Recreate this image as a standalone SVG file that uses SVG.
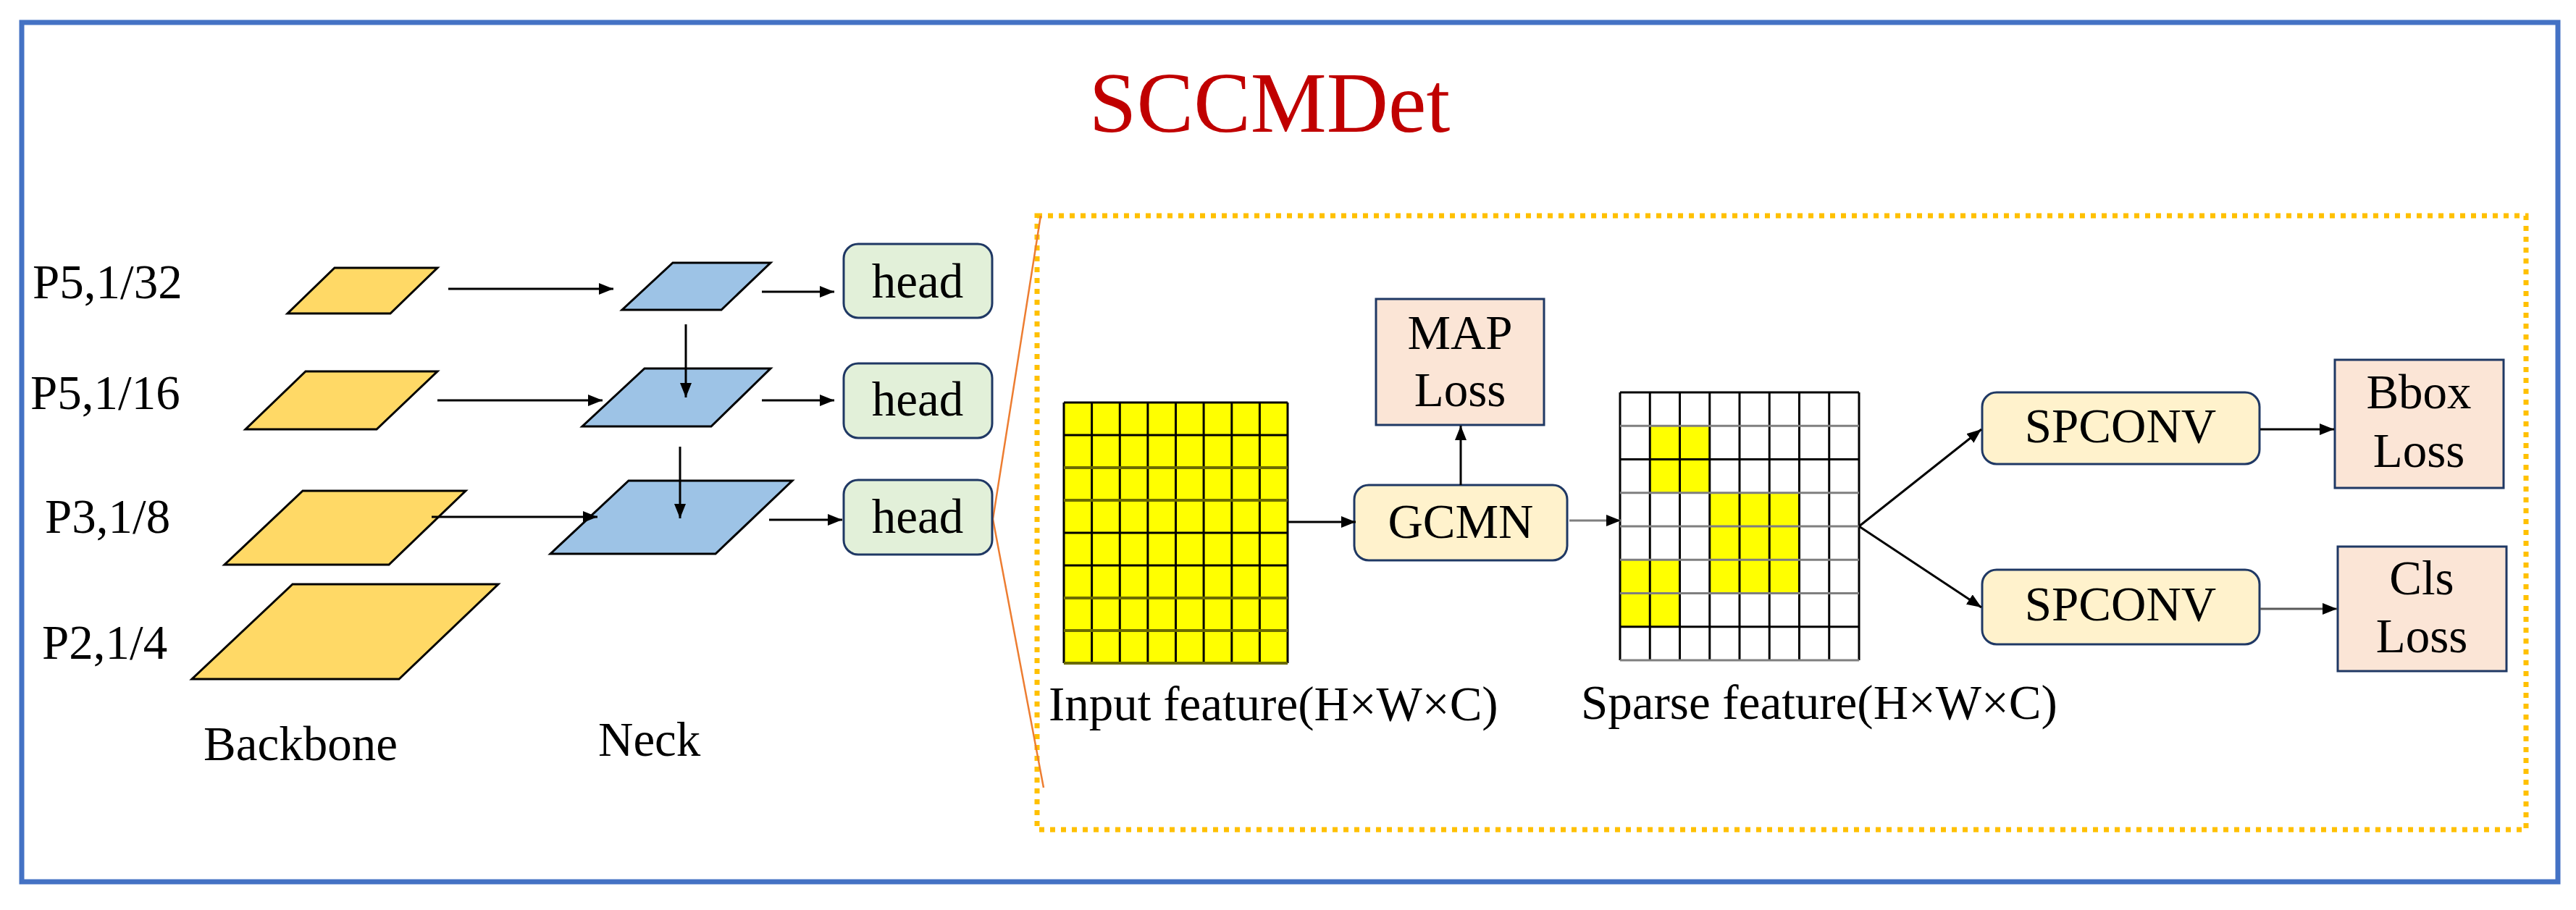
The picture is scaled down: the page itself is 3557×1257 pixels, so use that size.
<svg xmlns="http://www.w3.org/2000/svg" width="3557" height="1257" viewBox="0 0 3557 1257">
<style>
text{font-family:"Liberation Serif","Times New Roman",serif;font-size:67px;fill:#000}
.c{text-anchor:middle}
.yl{fill:#FFD966;stroke:#000;stroke-width:3}
.bl{fill:#9DC3E6;stroke:#000;stroke-width:3}
.head{fill:#E2F0D9;stroke:#1F3864;stroke-width:3}
.proc{fill:#FFF2CC;stroke:#1F3864;stroke-width:3}
.loss{fill:#FBE5D6;stroke:#1F3864;stroke-width:3}
.arr{stroke:#000;stroke-width:3;fill:none;marker-end:url(#ah)}
.gl{stroke:#000;stroke-width:3}
.gg{stroke:#7F7F7F;stroke-width:3}
</style>
<defs>
<marker id="ah" viewBox="0 0 20 16" refX="20" refY="8" markerWidth="20" markerHeight="16" markerUnits="userSpaceOnUse" orient="auto">
<path d="M0,0 L20,8 L0,16 z" fill="#000"/>
</marker>
</defs>
<rect x="30" y="31" width="3502" height="1187" fill="#fff" stroke="#4472C4" stroke-width="7"/>
<text id="title" x="1753" y="182" class="c" style="font-size:118px;fill:#C00000">SCCMDet</text>
<rect id="detail-box" x="1432" y="298" width="2056" height="848" fill="none" stroke="#FFC000" stroke-width="7" stroke-dasharray="7 8"/>
<polyline id="zoom-lines" points="1437,298 1371,717 1441,1088" fill="none" stroke="#ED7D31" stroke-width="2.5"/>
<g id="labels">
<text x="45" y="412">P5,1/32</text>
<text x="42" y="565">P5,1/16</text>
<text x="62" y="736">P3,1/8</text>
<text x="58" y="910">P2,1/4</text>
<text x="281" y="1050">Backbone</text>
<text x="826" y="1044">Neck</text>
<text x="1448" y="995">Input feature(H×W×C)</text>
<text x="2183" y="993">Sparse feature(H×W×C)</text>
</g>
<g id="backbone-p5-32"><polygon class="yl" points="462,370 604,370 539,433 397,433"/></g>
<g id="backbone-p5-16"><polygon class="yl" points="422,513 604,513 520,593 339,593"/></g>
<g id="backbone-p3-8"><polygon class="yl" points="418,678 643,678 537,780 310,780"/></g>
<g id="backbone-p2-4"><polygon class="yl" points="404,807 688,807 551,938 265,938"/></g>
<g id="neck-1"><polygon class="bl" points="929,363 1064,363 996,428 859,428"/></g>
<g id="neck-2"><polygon class="bl" points="890,509 1064,509 982,589 804,589"/></g>
<g id="neck-3"><polygon class="bl" points="868,664 1094,664 988,765 760,765"/></g>
<g id="head-1"><rect class="head" x="1165" y="337" width="205" height="102" rx="20"/><text x="1267" y="411" class="c">head</text></g>
<g id="head-2"><rect class="head" x="1165" y="502" width="205" height="103" rx="20"/><text x="1267" y="574" class="c">head</text></g>
<g id="head-3"><rect class="head" x="1165" y="663" width="205" height="103" rx="20"/><text x="1267" y="736" class="c">head</text></g>
<g id="input-feature">
<rect x="1469" y="556" width="309" height="360" fill="#FFFF00"/>
<g class="gl">
<line x1="1469" y1="556" x2="1469" y2="916"/><line x1="1507.6" y1="556" x2="1507.6" y2="916"/><line x1="1546.3" y1="556" x2="1546.3" y2="916"/><line x1="1584.9" y1="556" x2="1584.9" y2="916"/><line x1="1623.5" y1="556" x2="1623.5" y2="916"/><line x1="1662.1" y1="556" x2="1662.1" y2="916"/><line x1="1700.8" y1="556" x2="1700.8" y2="916"/><line x1="1739.4" y1="556" x2="1739.4" y2="916"/><line x1="1778" y1="556" x2="1778" y2="916"/>
<line x1="1469" y1="556" x2="1778" y2="556"/><line x1="1469" y1="601" x2="1778" y2="601"/><line x1="1469" y1="736" x2="1778" y2="736"/><line x1="1469" y1="781" x2="1778" y2="781"/>
</g>
<g stroke="#6B6B00" stroke-width="4">
<line x1="1469" y1="646" x2="1778" y2="646"/><line x1="1469" y1="691" x2="1778" y2="691"/><line x1="1469" y1="826" x2="1778" y2="826"/><line x1="1469" y1="871" x2="1778" y2="871"/><line x1="1469" y1="916" x2="1778" y2="916"/>
</g>
</g>
<g id="map-loss"><rect class="loss" x="1900" y="413" width="232" height="174"/><text x="2016" y="482" class="c">MAP</text><text x="2016" y="561" class="c">Loss</text></g>
<g id="gcmn"><rect class="proc" x="1870" y="670" width="294" height="104" rx="20"/><text x="2017" y="743" class="c">GCMN</text></g>
<g id="sparse-feature">
<rect x="2237" y="542" width="330" height="370" fill="#fff"/>
<rect x="2278.25" y="588.25" width="82.5" height="92.5" fill="#FFFF00"/>
<rect x="2360.75" y="680.75" width="123.75" height="138.75" fill="#FFFF00"/>
<rect x="2237" y="773.25" width="82.5" height="92.5" fill="#FFFF00"/>
<g class="gl">
<line x1="2237" y1="542" x2="2237" y2="912"/><line x1="2278.25" y1="542" x2="2278.25" y2="912"/><line x1="2319.5" y1="542" x2="2319.5" y2="912"/><line x1="2360.75" y1="542" x2="2360.75" y2="912"/><line x1="2402" y1="542" x2="2402" y2="912"/><line x1="2443.25" y1="542" x2="2443.25" y2="912"/><line x1="2484.5" y1="542" x2="2484.5" y2="912"/><line x1="2525.75" y1="542" x2="2525.75" y2="912"/><line x1="2567" y1="542" x2="2567" y2="912"/>
<line x1="2237" y1="542" x2="2567" y2="542"/><line x1="2237" y1="634.5" x2="2567" y2="634.5"/><line x1="2237" y1="865.75" x2="2567" y2="865.75"/>
</g>
<g class="gg">
<line x1="2237" y1="588.25" x2="2567" y2="588.25"/><line x1="2237" y1="680.75" x2="2567" y2="680.75"/><line x1="2237" y1="727" x2="2567" y2="727"/><line x1="2237" y1="773.25" x2="2567" y2="773.25"/><line x1="2237" y1="819.5" x2="2567" y2="819.5"/><line x1="2237" y1="912" x2="2567" y2="912"/>
</g>
</g>
<g id="spconv-1"><rect class="proc" x="2737" y="542" width="383" height="99" rx="20"/><text x="2928" y="611" class="c">SPCONV</text></g>
<g id="spconv-2"><rect class="proc" x="2737" y="787" width="383" height="103" rx="20"/><text x="2928" y="857" class="c">SPCONV</text></g>
<g id="bbox-loss"><rect class="loss" x="3224" y="497" width="233" height="177"/><text x="3340" y="564" class="c">Bbox</text><text x="3340" y="645" class="c">Loss</text></g>
<g id="cls-loss"><rect class="loss" x="3228" y="755" width="233" height="172"/><text x="3344" y="821" class="c">Cls</text><text x="3344" y="901" class="c">Loss</text></g>
<g id="connectors">
<line class="arr" x1="619" y1="399" x2="847" y2="399"/>
<line class="arr" x1="1052" y1="403" x2="1152" y2="403"/>
<line class="arr" x1="604" y1="553" x2="832" y2="553"/>
<line class="arr" x1="1052" y1="553" x2="1152" y2="553"/>
<line class="arr" x1="596" y1="714" x2="825" y2="714"/>
<line class="arr" x1="1062" y1="718" x2="1163" y2="718"/>
<line class="arr" x1="947" y1="448" x2="947" y2="549"/>
<line class="arr" x1="939" y1="617" x2="939" y2="716"/>
<line class="arr" x1="1778" y1="721" x2="1872" y2="721"/>
<line class="arr" x1="2017" y1="670" x2="2017" y2="588"/>
<line class="arr" x1="2167" y1="719" x2="2238" y2="719" style="stroke:#7F7F7F"/>
<line class="arr" x1="2567" y1="727" x2="2736" y2="593"/>
<line class="arr" x1="2567" y1="727" x2="2736" y2="839"/>
<line class="arr" x1="3121" y1="593" x2="3223" y2="593"/>
<line class="arr" x1="3121" y1="841" x2="3227" y2="841" style="stroke:#595959"/>
</g>
</svg>
